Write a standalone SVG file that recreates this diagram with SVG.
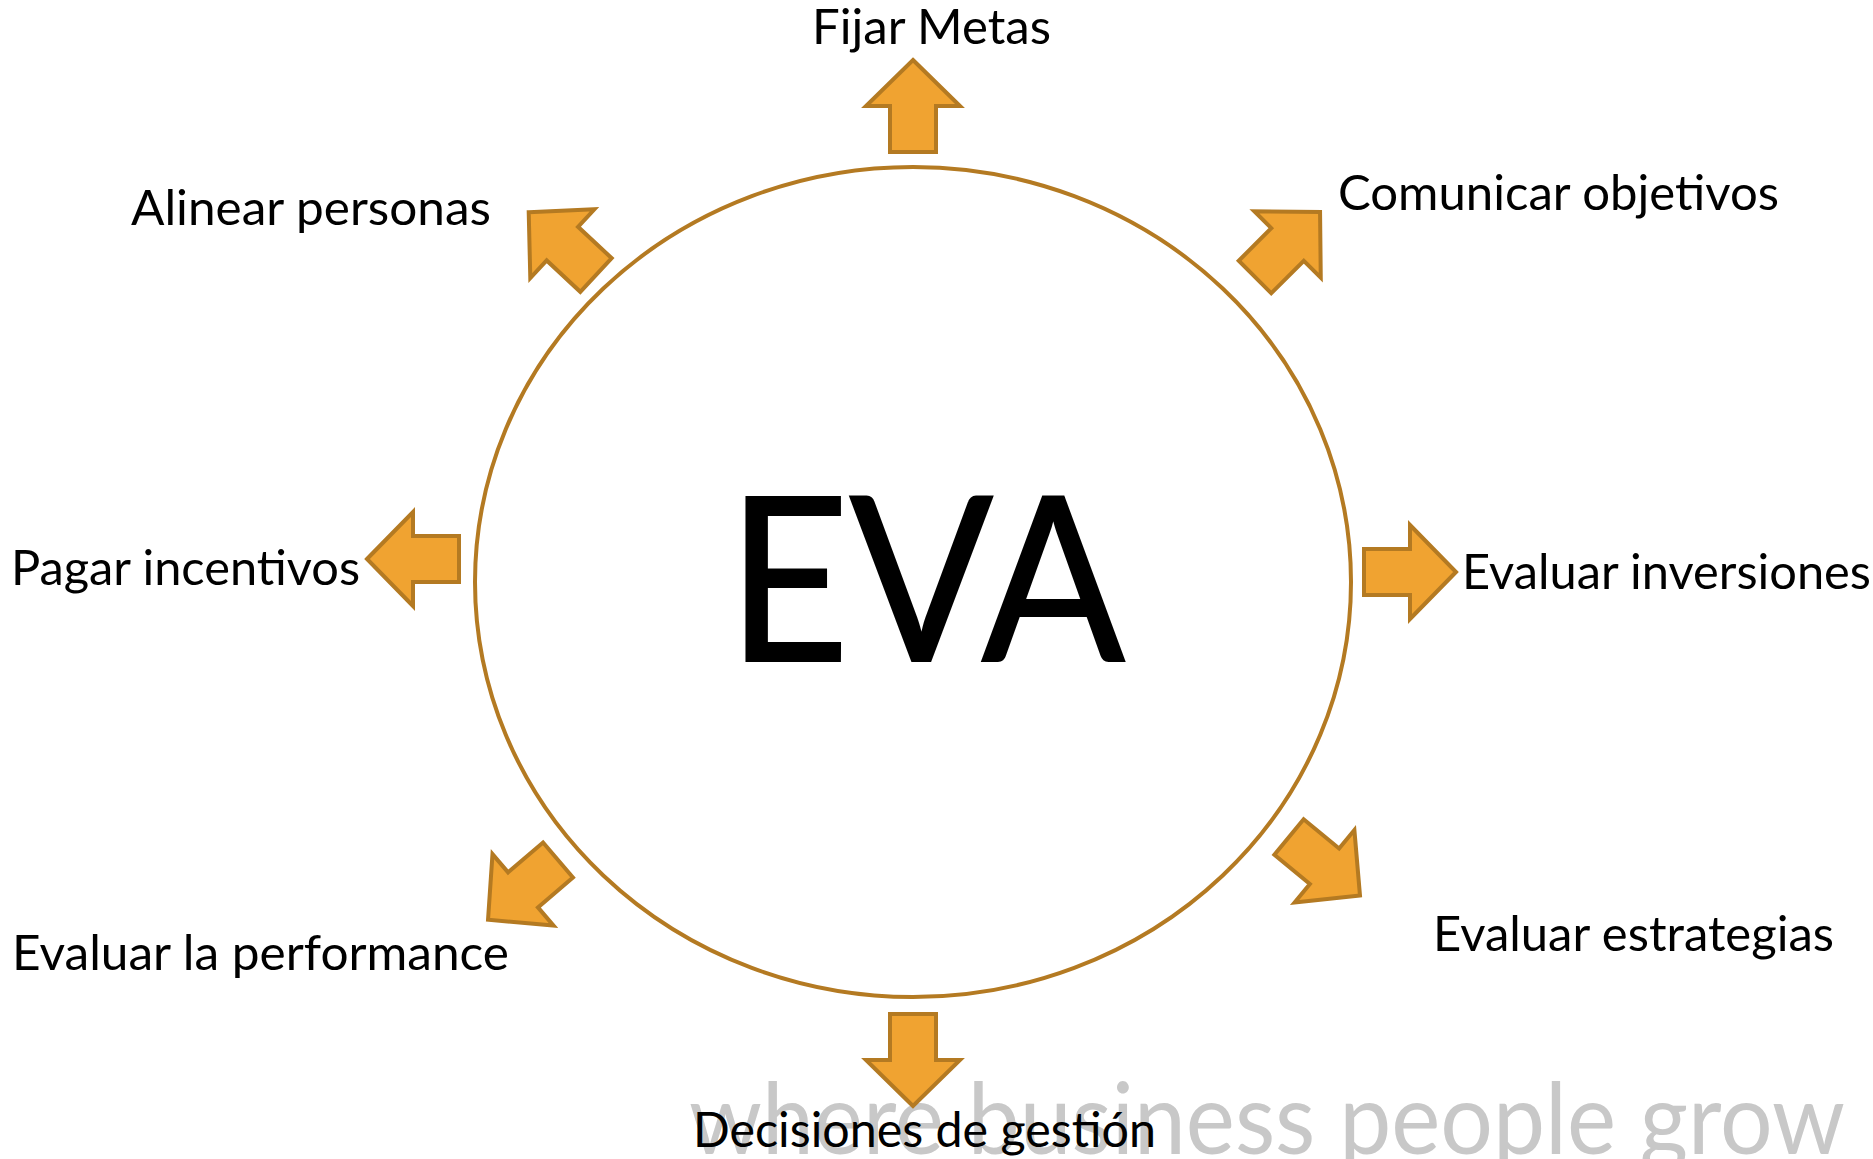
<svg xmlns="http://www.w3.org/2000/svg" xmlns:xlink="http://www.w3.org/1999/xlink" width="1873" height="1159" viewBox="0 0 1873 1159">
  <style>
    .lbl { font-family: Lato, "Open Sans", "Liberation Sans", sans-serif; font-size: 47.5px; fill: #000; }
    .hub { font-family: Lato, "Open Sans", "Liberation Sans", sans-serif; font-size: 229px; fill: #000; }
    .mark { font-family: Lato, "Open Sans", "Liberation Sans", sans-serif; font-size: 98px; fill: #c8c8c8; }
    .blk { fill: #f0a331; stroke: #b47a22; stroke-width: 4; stroke-linejoin: miter; }
  </style>
  <defs>
    <!-- block arrow pointing up, origin at the centre of its tail -->
    <path id="blockArrow" class="blk" d="M0,-92 L47,-46 L23,-46 L23,0 L-23,0 L-23,-46 L-47,-46 Z"/>
  </defs>

  <rect width="1873" height="1159" fill="#fff"/>

  <!-- faint background slogan -->
  <text class="mark" x="689" y="1154" textLength="1156" lengthAdjust="spacingAndGlyphs">where business people grow</text>

  <!-- central node -->
  <g id="eva">
    <ellipse cx="913" cy="582" rx="438" ry="415" fill="#fff" stroke="#b47a22" stroke-width="4"/>
    <text class="hub" x="727" y="661" textLength="398" lengthAdjust="spacingAndGlyphs" stroke="#000" stroke-width="2">EVA</text>
  </g>

  <!-- outward block arrows -->
  <g id="connectors">
    <use xlink:href="#blockArrow" transform="translate(913,152)"/>
    <use xlink:href="#blockArrow" transform="translate(1255,277) rotate(45)"/>
    <use xlink:href="#blockArrow" transform="translate(1364,572) rotate(90)"/>
    <use xlink:href="#blockArrow" transform="translate(1289,837) rotate(129.5)"/>
    <use xlink:href="#blockArrow" transform="translate(913,1014) rotate(180)"/>
    <use xlink:href="#blockArrow" transform="translate(558,860) rotate(-130.5)"/>
    <use xlink:href="#blockArrow" transform="translate(459,559) rotate(-90)"/>
    <use xlink:href="#blockArrow" transform="translate(596,275) rotate(-47)"/>
  </g>

  <!-- outcome labels -->
  <g id="fijar-metas">
    <text class="lbl" x="812" y="44" textLength="239" lengthAdjust="spacingAndGlyphs">Fijar Metas</text>
  </g>
  <g id="comunicar-objetivos">
    <text class="lbl" x="1338" y="210" textLength="441" lengthAdjust="spacingAndGlyphs">Comunicar objetivos</text>
  </g>
  <g id="evaluar-inversiones">
    <text class="lbl" x="1462" y="589" textLength="409" lengthAdjust="spacingAndGlyphs">Evaluar inversiones</text>
  </g>
  <g id="evaluar-estrategias">
    <text class="lbl" x="1433" y="951" textLength="401" lengthAdjust="spacingAndGlyphs">Evaluar estrategias</text>
  </g>
  <g id="decisiones-de-gestion">
    <text class="lbl" x="693" y="1147" textLength="463" lengthAdjust="spacingAndGlyphs">Decisiones de gestión</text>
  </g>
  <g id="evaluar-la-performance">
    <text class="lbl" x="12" y="970" textLength="497" lengthAdjust="spacingAndGlyphs">Evaluar la performance</text>
  </g>
  <g id="pagar-incentivos">
    <text class="lbl" x="11" y="585" textLength="349" lengthAdjust="spacingAndGlyphs">Pagar incentivos</text>
  </g>
  <g id="alinear-personas">
    <text class="lbl" x="131" y="225" textLength="360" lengthAdjust="spacingAndGlyphs">Alinear personas</text>
  </g>
</svg>
